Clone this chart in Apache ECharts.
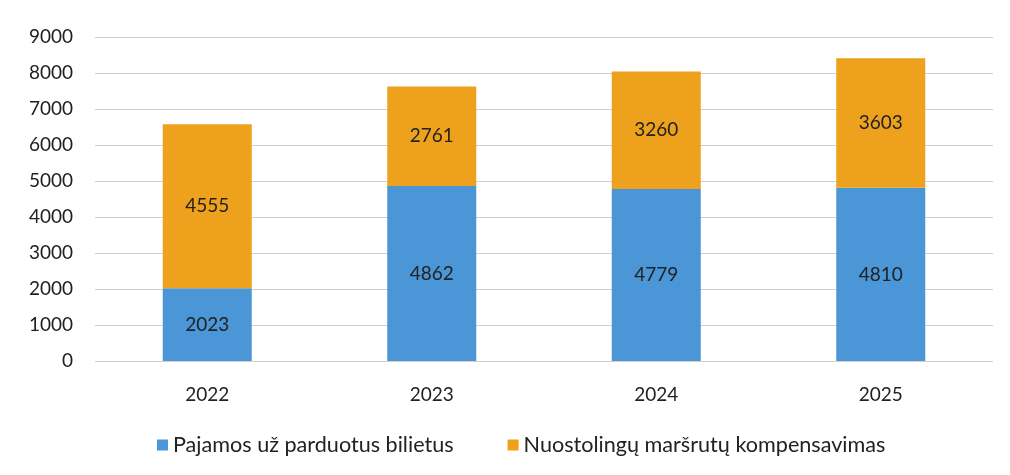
<!DOCTYPE html>
<html>
<head>
<meta charset="utf-8">
<script src="https://cdn.jsdelivr.net/npm/echarts@6/dist/echarts.min.js"></script>
<style>
  html, body { margin: 0; padding: 0; background: #fff; }
  #chart { width: 1010px; height: 475px; }
</style>
</head>
<body>
<div id="chart"></div>
<script>
// metai
const years = ['2022', '2023', '2024', '2025'];
// pajamos už bilietus
const ticketIncome = [2023, 4862, 4779, 4810];
// kompensacijos
const compensation = [4555, 2761, 3260, 3603];
const seriesNames = ['Pajamos už parduotus bilietus', 'Nuostolingų maršrutų kompensavimas'];

const font = 'Lato, "Open Sans", sans-serif';
const chart = echarts.init(document.getElementById('chart'));

const labelStyle = {
    show: true,
    position: 'inside',
    color: '#222',
    fontSize: 19,
    fontFamily: font
};

const option = {
    animation: false,
    backgroundColor: '#fff',
    grid: { left: 95, right: 17, top: 37, bottom: 114 },
    legend: {
        bottom: 14,
        left: 152,
        itemWidth: 11,
        itemHeight: 11,
        itemGap: 54,
        icon: 'rect',
        textStyle: { fontSize: 21.6, color: '#222', fontFamily: font },
        data: seriesNames
    },
    xAxis: {
        type: 'category',
        data: years,
        axisLine: { show: false },
        axisTick: { show: false },
        axisLabel: { fontSize: 19, color: '#222', fontFamily: font, margin: 24 }
    },
    yAxis: {
        type: 'value',
        min: 0,
        max: 9000,
        interval: 1000,
        axisLabel: {
            fontSize: 19, color: '#222', fontFamily: font, margin: 22,
            formatter: v => String(v)
        },
        splitLine: { lineStyle: { color: '#cfcfcf', width: 1 } }
    },
    series: [
        {
            name: seriesNames[0],
            type: 'bar',
            stack: 'total',
            barWidth: 89,
            data: ticketIncome,
            itemStyle: { color: '#4a96d6' },
            label: labelStyle
        },
        {
            name: seriesNames[1],
            type: 'bar',
            stack: 'total',
            barWidth: 89,
            data: compensation,
            itemStyle: { color: '#eea11c' },
            label: labelStyle
        }
    ]
};
option && chart.setOption(option);
</script>
</body>
</html>
